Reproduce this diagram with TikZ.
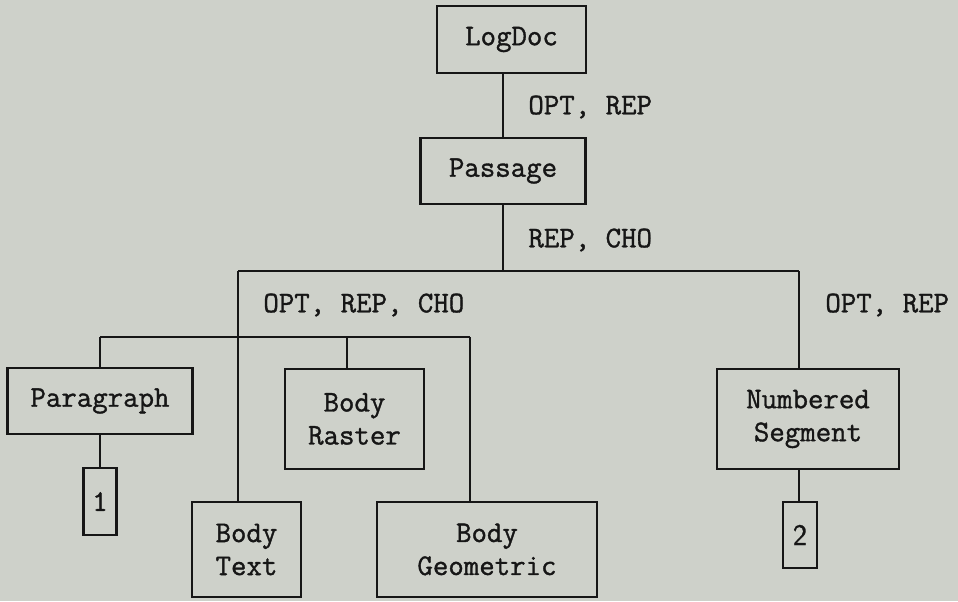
\documentclass[tikz,border=0pt]{standalone}
\usepackage{fontspec}
\newfontfamily\diagtt[FakeBold=1.2]{Latin Modern Mono}
\newfontfamily\diagsf[FakeBold=0.8]{Latin Modern Sans}
\definecolor{bg}{RGB}{206,209,202}
\definecolor{ink}{RGB}{22,22,22}
\tikzset{
  boxnode/.style={draw=ink, line width=1.1pt, inner sep=0pt, align=center,
    text=ink, font=\fontsize{15}{16.5}\selectfont\diagtt},
  lbl/.style={anchor=west, inner sep=0pt, text=ink, font=\fontsize{15}{16.5}\selectfont\diagtt},
  wire/.style={draw=ink, line width=1.1pt}
}
\begin{document}
\begin{tikzpicture}[x=0.5pt, y=-0.5pt]
\fill[bg] (0,0) rectangle (958,601);
\useasboundingbox (0,0) rectangle (958,601);

\node[boxnode, minimum width=74.5pt, minimum height=33.5pt] (logdoc) at (511.5,39.5) {LogDoc};
\node[boxnode, minimum width=82.5pt, minimum height=33pt] (passage) at (503,171) {Passage};
\node[boxnode, minimum width=92.5pt, minimum height=33pt] (paragraph) at (100,401) {Paragraph};
\node[boxnode, minimum width=16.5pt, minimum height=33.5pt] (one) at (100,501.5) {1};
\node[boxnode, minimum width=69.5pt, minimum height=50pt] (raster) at (354.5,419) {Body\\Raster};
\node[boxnode, minimum width=54.5pt, minimum height=47.5pt] (text) at (246.5,549.5) {Body\\Text};
\node[boxnode, minimum width=110pt, minimum height=47.5pt] (geo) at (487,549.5) {Body\\Geometric};
\node[boxnode, minimum width=91pt, minimum height=50pt] (numseg) at (808,419) {Numbered\\Segment};
\node[boxnode, minimum width=17pt, minimum height=33pt, font=\fontsize{15}{16.5}\selectfont\diagsf] (two) at (800,535) {2};

\coordinate (busA) at (238,271);
\coordinate (busB) at (799,271);
\coordinate (busC) at (100,337);
\coordinate (busD) at (470,337);

\draw[wire] (passage.north) -- (passage.north |- logdoc.south);
\draw[wire] (passage.south) -- (passage.south |- busA);
\draw[wire] (busA) -- (busB);
\draw[wire] (busA) -- (busA |- text.north);
\draw[wire] (busB) -- (busB |- numseg.north);
\draw[wire] (busC) -- (busD);
\draw[wire] (busC) -- (busC |- paragraph.north);
\draw[wire] (347,337) -- (347,0 |- raster.north);
\draw[wire] (busD) -- (busD |- geo.north);
\draw[wire] (paragraph.south) -- (one.north);
\draw[wire] (busB |- numseg.south) -- (busB |- two.north);

\node[lbl] (l1) at (528,107) {OPT, REP};
\node[lbl] (l2) at (528,240) {REP, CHO};
\node[lbl] (l3) at (263,305) {OPT, REP, CHO};
\node[lbl] (l4) at (825,305) {OPT, REP};
\end{tikzpicture}
\end{document}
